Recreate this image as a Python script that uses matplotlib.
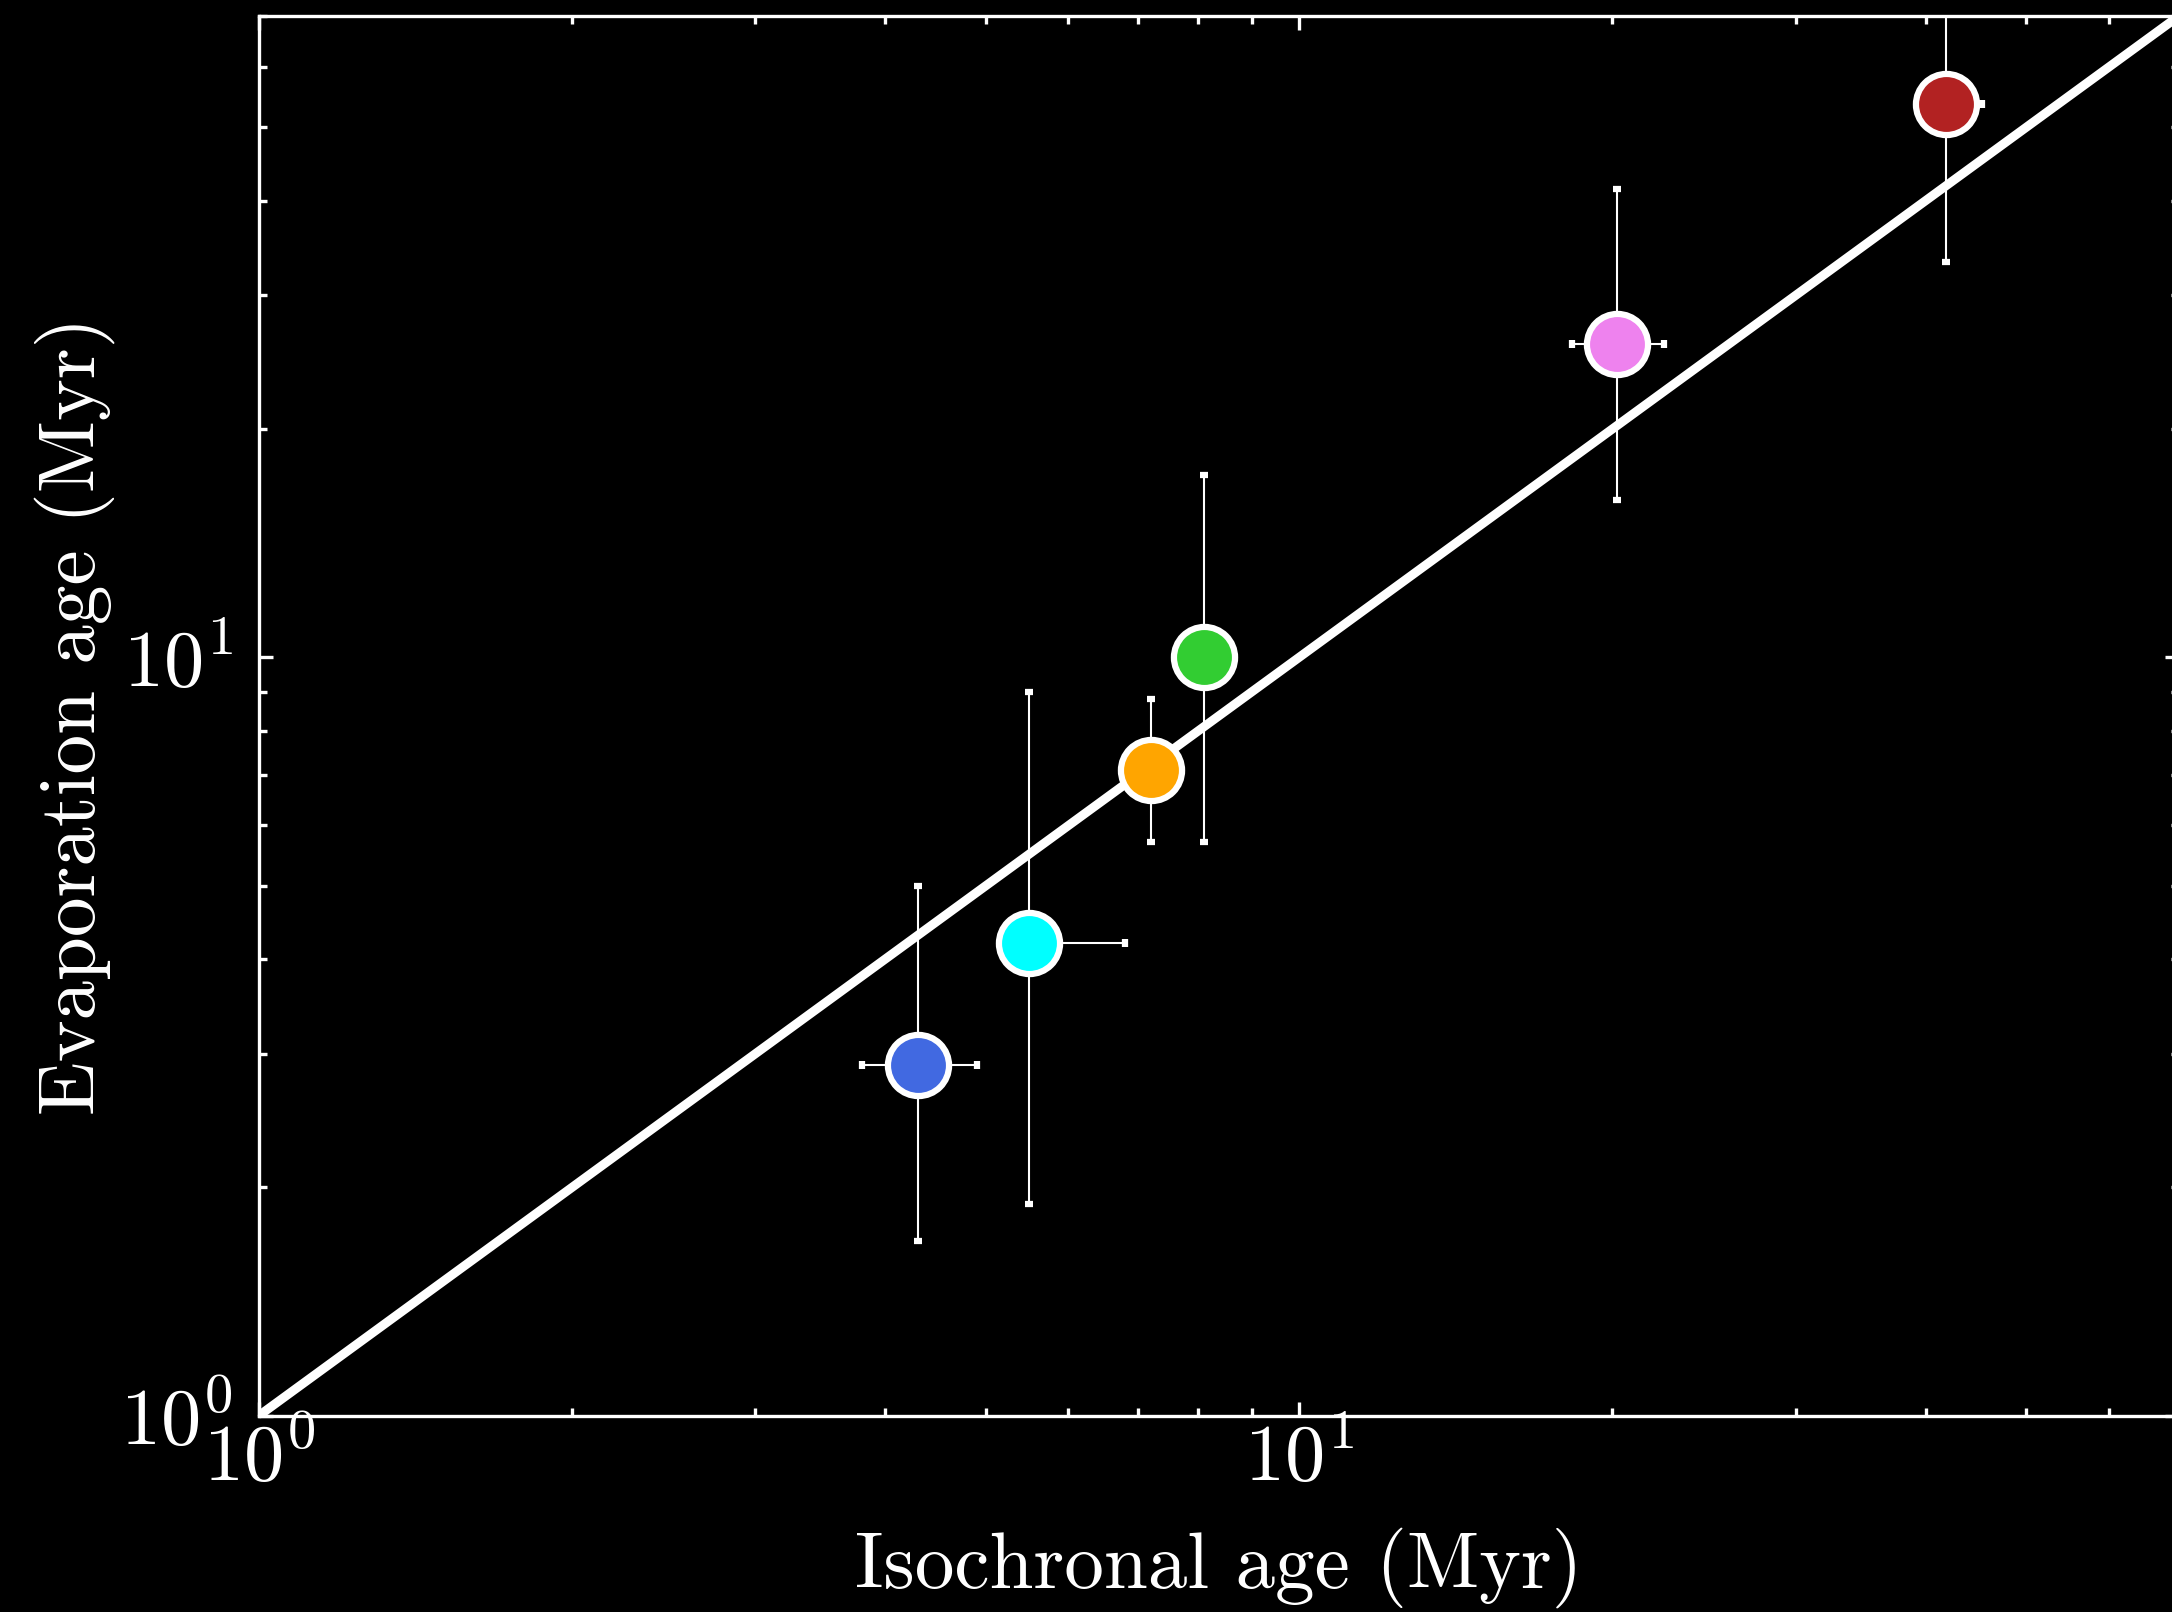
import matplotlib
matplotlib.use("Agg")
import matplotlib.pyplot as plt
from matplotlib.ticker import NullFormatter

# DADOS (idade isocronal x idade de evaporacao, em Myr)
iso_age = [4.3, 5.5, 7.2, 8.1, 20.2, 41.8]
iso_err_lo = [0.5, 0.0, 0.0, 0.0, 1.9, 0.0]
iso_err_hi = [0.6, 1.3, 0.0, 0.0, 2.2, 3.5]
evap_age = [2.9, 4.2, 7.1, 10.0, 25.9, 53.7]
evap_err_lo = [1.2, 2.3, 1.4, 4.3, 9.8, 20.5]
evap_err_hi = [2.1, 4.8, 1.7, 7.4, 15.5, 30.0]
cores = ["royalblue", "cyan", "orange", "limegreen", "violet", "firebrick"]

# linha 1:1
linha = [1, 70]

# ESTILO
plt.rcParams["font.family"] = "serif"
plt.rcParams["font.serif"] = ["cmr10"]
plt.rcParams["mathtext.fontset"] = "cm"
plt.rcParams["axes.unicode_minus"] = False
plt.rcParams["axes.formatter.use_mathtext"] = True

fig = plt.figure(figsize=(21.72, 16.12), dpi=100, facecolor="black")
ax = fig.add_axes([0.1192, 0.1218, 0.8838, 0.8681])
ax.set_facecolor("black")

ax.plot(linha, linha, color="white", lw=6.5, zorder=1)

for i in range(len(iso_age)):
    ax.errorbar(
        iso_age[i], evap_age[i],
        xerr=[[iso_err_lo[i]], [iso_err_hi[i]]],
        yerr=[[evap_err_lo[i]], [evap_err_hi[i]]],
        fmt="o",
        ms=44,
        mfc=cores[i],
        mec="white",
        mew=4.5,
        ecolor="white",
        elinewidth=1.5,
        capsize=3.2,
        capthick=3,
        zorder=3,
    )

ax.set_xscale("log")
ax.set_yscale("log")
ax.set_xlim(1, 70)
ax.set_ylim(1, 70)

for s in ax.spines.values():
    s.set_color("white")
    s.set_linewidth(2.4)

ax.tick_params(which="both", direction="in", top=True, right=True,
               colors="white", width=2.4)
ax.tick_params(which="major", length=10, labelsize=58)
ax.tick_params(which="minor", length=5.5)
ax.tick_params(axis="x", which="major", pad=4)
ax.tick_params(axis="y", which="major", pad=19)
ax.xaxis.set_minor_formatter(NullFormatter())
ax.yaxis.set_minor_formatter(NullFormatter())

ax.set_xlabel("Isochronal age (Myr)", fontsize=57, color="white", labelpad=22)
ax.set_ylabel("Evaporation age (Myr)", fontsize=57, color="white", labelpad=4)

plt.savefig("out.png", dpi=100, facecolor="black")
plt.close()
